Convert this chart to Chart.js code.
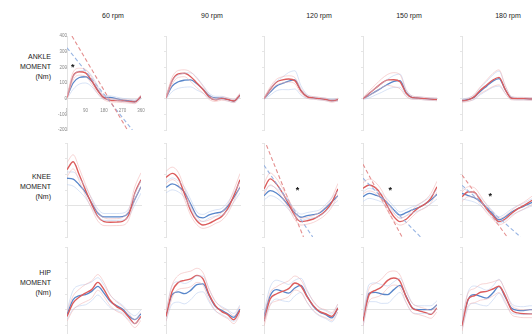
<!DOCTYPE html>
<html>
<head>
<meta charset="utf-8">
<script src="https://cdn.jsdelivr.net/npm/chart.js@4.4.1/dist/chart.umd.min.js"></script>
<style>
  body { margin: 0; background: #fff; width: 532px; height: 334px; overflow: hidden; position: relative;
         font-family: "Liberation Sans", Arial, sans-serif; }
  canvas { position: absolute; }
  .head { position: absolute; font-size: 7px; line-height: 8px; color: #222; white-space: nowrap; transform: translateX(-50%); }
  .row { position: absolute; left: 0; width: 51px; font-size: 7px; line-height: 10px; color: #222; text-align: right; }
</style>
</head>
<body>
<script>
// crank angle samples and axis ticks
const angles = [0, 30, 60, 90, 120, 150, 180, 210, 240, 270, 300, 330, 360];
const yTicks = [-200, -100, 0, 100, 200, 300, 400];
const xTicks = [0, 90, 180, 270, 360];
const speeds = ["60 rpm", "90 rpm", "120 rpm", "150 rpm", "180 rpm"];
const joints = [["ANKLE", "MOMENT", "(Nm)"], ["KNEE", "MOMENT", "(Nm)"], ["HIP", "MOMENT", "(Nm)"]];

// ankle
const ankle60Red = [5, 145, 172, 165, 115, 50, 5, -10, -12, -15, -18, -22, 15];
const ankle60Blue = [10, 100, 135, 140, 112, 55, 8, 8, 0, -8, -12, -18, 10];
const ankle60RedSd = [10, 25, 22, 22, 22, 18, 12, 10, 10, 10, 10, 10, 10];
const ankle60BlueSd = [10, 40, 42, 40, 35, 25, 12, 10, 10, 10, 10, 10, 10];
const ankle90Red = [5, 115, 158, 162, 140, 100, 58, 10, -8, 0, -5, -15, 25];
const ankle90Blue = [5, 80, 108, 118, 120, 95, 60, 20, 5, 5, -5, -15, 20];
const ankle90RedSd = [8, 22, 22, 22, 30, 30, 22, 15, 10, 10, 10, 10, 10];
const ankle90BlueSd = [8, 35, 42, 45, 45, 40, 25, 15, 10, 10, 10, 10, 10];
const ankle120Red = [0, 60, 105, 120, 126, 115, 50, 12, 5, 0, -5, -15, -5];
const ankle120Blue = [0, 42, 80, 98, 112, 120, 52, 14, 5, 0, -5, -10, -8];
const ankle120RedSd = [5, 15, 18, 20, 20, 20, 15, 10, 8, 8, 8, 8, 8];
const ankle120BlueSd = [5, 20, 30, 40, 55, 58, 30, 12, 8, 8, 8, 8, 8];
const ankle150Red = [0, 34, 66, 98, 120, 121, 108, 34, 7, 4, 0, -3, -5];
const ankle150Blue = [0, 20, 45, 68, 92, 110, 115, 38, 7, 4, 0, -3, -5];
const ankle150RedSd = [5, 15, 22, 28, 35, 45, 45, 20, 10, 8, 8, 8, 8];
const ankle150BlueSd = [5, 15, 22, 28, 32, 38, 42, 20, 10, 8, 8, 8, 8];
const ankle180Red = [-15, -8, 13, 55, 87, 119, 136, 60, 3, 0, 0, -2, -2];
const ankle180Blue = [-10, -5, 10, 48, 80, 112, 128, 58, 5, 0, 0, -2, -2];
const ankle180RedSd = [8, 10, 15, 22, 32, 42, 48, 25, 10, 8, 8, 8, 8];
const ankle180BlueSd = [8, 10, 15, 22, 30, 40, 48, 25, 10, 8, 8, 8, 8];

// knee
const knee60Red = [230, 280, 196, 100, 10, -70, -102, -106, -105, -100, -60, 80, 165];
const knee60Blue = [175, 170, 132, 85, 17, -47, -72, -72, -72, -70, -45, 40, 120];
const knee60RedSd = [45, 45, 40, 35, 30, 28, 25, 22, 22, 25, 30, 40, 45];
const knee60BlueSd = [40, 45, 40, 35, 30, 25, 22, 22, 22, 22, 25, 35, 40];
const knee90Red = [180, 206, 174, 75, -32, -96, -123, -113, -92, -70, -21, 64, 165];
const knee90Blue = [117, 139, 123, 85, 11, -64, -78, -59, -47, -40, -4, 53, 117];
const knee90RedSd = [40, 40, 38, 35, 30, 25, 22, 22, 22, 25, 28, 35, 40];
const knee90BlueSd = [35, 38, 35, 32, 28, 25, 22, 20, 20, 22, 25, 30, 35];
const knee120Red = [107, 171, 139, 81, 11, -64, -102, -96, -85, -64, -32, 21, 107];
const knee120Blue = [64, 96, 81, 47, 0, -47, -74, -64, -57, -47, -15, 25, 64];
const knee120RedSd = [35, 38, 35, 32, 28, 25, 22, 22, 22, 22, 25, 30, 35];
const knee120BlueSd = [30, 32, 30, 28, 25, 22, 20, 20, 20, 20, 22, 25, 30];
const knee150Red = [111, 132, 115, 68, -6, -70, -102, -87, -48, -13, 9, 47, 121];
const knee150Blue = [57, 79, 68, 51, 15, -27, -60, -45, -27, -13, 9, 36, 73];
const knee150RedSd = [35, 38, 35, 32, 28, 25, 22, 22, 22, 22, 25, 30, 35];
const knee150BlueSd = [30, 32, 30, 28, 25, 22, 20, 20, 20, 20, 22, 25, 30];
const knee180Red = [57, 89, 85, 36, -21, -64, -102, -85, -51, -21, 0, 25, 50];
const knee180Blue = [78, 64, 51, 25, -13, -55, -91, -72, -42, -21, -4, 15, 30];
const knee180RedSd = [30, 32, 30, 28, 25, 22, 20, 20, 20, 20, 22, 25, 30];
const knee180BlueSd = [35, 30, 28, 25, 22, 20, 20, 20, 20, 20, 20, 22, 25];

// hip
const hip60Red = [-43, 43, 81, 106, 128, 174, 128, 60, 21, -4, -47, -89, -43];
const hip60Blue = [-32, 64, 89, 96, 117, 149, 106, 53, 26, 4, -38, -64, -26];
const hip60RedSd = [30, 45, 50, 55, 55, 50, 45, 35, 30, 25, 25, 25, 25];
const hip60BlueSd = [30, 60, 65, 65, 60, 55, 50, 40, 30, 25, 25, 25, 25];
const hip90Red = [-43, 117, 174, 187, 196, 219, 196, 96, 26, -11, -32, -64, -4];
const hip90Blue = [-43, 96, 113, 102, 123, 160, 164, 89, 21, -4, -26, -49, 4];
const hip90RedSd = [30, 40, 45, 50, 50, 45, 40, 35, 30, 25, 25, 25, 25];
const hip90BlueSd = [30, 60, 65, 65, 60, 55, 50, 40, 30, 25, 25, 25, 25];
const hip120Red = [-74, 68, 100, 117, 134, 170, 149, 81, 26, -11, -26, -43, 11];
const hip120Blue = [-43, 89, 128, 117, 106, 138, 155, 85, 21, -15, -32, -53, 11];
const hip120RedSd = [30, 40, 45, 50, 50, 45, 40, 35, 30, 25, 25, 25, 25];
const hip120BlueSd = [30, 55, 60, 60, 55, 50, 45, 40, 30, 25, 25, 25, 25];
const hip150Red = [-74, 96, 123, 145, 187, 202, 181, 81, 11, -6, -17, -30, 11];
const hip150Blue = [-74, 106, 111, 100, 96, 128, 155, 85, 11, 0, 0, 0, 32];
const hip150RedSd = [30, 40, 45, 50, 50, 45, 40, 35, 30, 25, 25, 25, 25];
const hip150BlueSd = [30, 55, 60, 60, 55, 50, 45, 40, 30, 25, 25, 25, 25];
const hip180Red = [-106, 68, 89, 111, 117, 132, 149, 89, 0, -21, -26, -26, -26];
const hip180Blue = [-96, 64, 96, 85, 74, 106, 149, 81, 11, -4, -6, 0, 0];
const hip180RedSd = [30, 40, 45, 50, 50, 45, 40, 35, 30, 25, 25, 25, 25];
const hip180BlueSd = [30, 50, 55, 55, 50, 45, 45, 40, 30, 25, 25, 25, 25];

// dashed trend lines [angle, moment] and asterisks
const ankle60RedTrend = [[24, 400], [294, -200]];
const ankle60BlueTrend = [[0, 325], [318, -200]];
const knee120RedTrend = [[0, 425], [192, -200]];
const knee120BlueTrend = [[0, 258], [237, -200]];
const knee150RedTrend = [[0, 264], [190, -200]];
const knee150BlueTrend = [[0, 175], [280, -200]];
const knee180RedTrend = [[0, 196], [220, -200]];
const knee180BlueTrend = [[0, 130], [285, -200]];
const ankle60Star = [28, 212];
const knee120Star = [163, 111];
const knee150Star = [133, 111];
const knee180Star = [138, 73];

const panels = [
  [
    { red: ankle60Red, blue: ankle60Blue, redSd: ankle60RedSd, blueSd: ankle60BlueSd, redTrend: ankle60RedTrend, blueTrend: ankle60BlueTrend, star: ankle60Star },
    { red: ankle90Red, blue: ankle90Blue, redSd: ankle90RedSd, blueSd: ankle90BlueSd },
    { red: ankle120Red, blue: ankle120Blue, redSd: ankle120RedSd, blueSd: ankle120BlueSd },
    { red: ankle150Red, blue: ankle150Blue, redSd: ankle150RedSd, blueSd: ankle150BlueSd },
    { red: ankle180Red, blue: ankle180Blue, redSd: ankle180RedSd, blueSd: ankle180BlueSd },
  ],
  [
    { red: knee60Red, blue: knee60Blue, redSd: knee60RedSd, blueSd: knee60BlueSd },
    { red: knee90Red, blue: knee90Blue, redSd: knee90RedSd, blueSd: knee90BlueSd },
    { red: knee120Red, blue: knee120Blue, redSd: knee120RedSd, blueSd: knee120BlueSd, redTrend: knee120RedTrend, blueTrend: knee120BlueTrend, star: knee120Star },
    { red: knee150Red, blue: knee150Blue, redSd: knee150RedSd, blueSd: knee150BlueSd, redTrend: knee150RedTrend, blueTrend: knee150BlueTrend, star: knee150Star },
    { red: knee180Red, blue: knee180Blue, redSd: knee180RedSd, blueSd: knee180BlueSd, redTrend: knee180RedTrend, blueTrend: knee180BlueTrend, star: knee180Star },
  ],
  [
    { red: hip60Red, blue: hip60Blue, redSd: hip60RedSd, blueSd: hip60BlueSd },
    { red: hip90Red, blue: hip90Blue, redSd: hip90RedSd, blueSd: hip90BlueSd },
    { red: hip120Red, blue: hip120Blue, redSd: hip120RedSd, blueSd: hip120BlueSd },
    { red: hip150Red, blue: hip150Blue, redSd: hip150RedSd, blueSd: hip150BlueSd },
    { red: hip180Red, blue: hip180Blue, redSd: hip180RedSd, blueSd: hip180BlueSd },
  ],
];

// layout (pixels)
const colLeft = [67, 166, 264, 363, 462];
const rowTop = [36, 142.5, 247];
const headX = [113, 212, 319, 409, 508];
const rowLabelTop = [52, 172, 268];
const plotW = 74, plotH = 94;
const padL = 22, padT = 8, padR = 14, padB = 8;

const starPlugin = {
  id: "star",
  afterDatasetsDraw(chart, args, opts) {
    if (!opts.at) return;
    const ctx = chart.ctx;
    const px = chart.scales.x.getPixelForValue(opts.at[0]);
    const py = chart.scales.y.getPixelForValue(opts.at[1]);
    ctx.save();
    ctx.font = 'bold 9px "Liberation Sans"';
    ctx.fillStyle = "#111";
    ctx.textAlign = "center";
    ctx.textBaseline = "alphabetic";
    ctx.fillText("*", px, py + 5);
    ctx.restore();
  },
};

function line(values, color, width) {
  return {
    data: values.map(function (v, i) { return { x: angles[i], y: v }; }),
    borderColor: color,
    borderWidth: width,
    pointRadius: 0,
    cubicInterpolationMode: "monotone",
    fill: false,
  };
}

function band(values, sd, sign, color) {
  return line(values.map(function (v, i) { return v + sign * sd[i]; }), color, 0.8);
}

function trend(seg, color) {
  return {
    data: seg.map(function (p) { return { x: p[0], y: p[1] }; }),
    borderColor: color,
    borderWidth: 1.1,
    borderDash: [4, 2.5],
    pointRadius: 0,
    tension: 0,
    fill: false,
  };
}

function makePanel(row, col, p) {
  const cv = document.createElement("canvas");
  cv.width = plotW + padL + padR;
  cv.height = plotH + padT + padB;
  cv.style.width = cv.width + "px";
  cv.style.height = cv.height + "px";
  cv.style.left = colLeft[col] - padL + "px";
  cv.style.top = rowTop[row] - padT + "px";
  document.body.appendChild(cv);
  const first = row === 0 && col === 0;

  const datasets = [
    band(p.red, p.redSd, 1, "rgba(240,180,180,0.7)"),
    band(p.red, p.redSd, -1, "rgba(240,180,180,0.7)"),
    band(p.blue, p.blueSd, 1, "rgba(185,204,238,0.7)"),
    band(p.blue, p.blueSd, -1, "rgba(185,204,238,0.7)"),
  ];
  if (p.redTrend) datasets.push(trend(p.redTrend, "rgba(225,130,130,0.9)"));
  if (p.blueTrend) datasets.push(trend(p.blueTrend, "rgba(140,172,224,0.9)"));
  datasets.push(line(p.red, "rgb(220,92,92)", 1.4));
  datasets.push(line(p.blue, "rgb(88,134,202)", 1.3));

  new Chart(cv, {
    type: "line",
    data: { datasets: datasets },
    plugins: [starPlugin],
    options: {
      responsive: false,
      devicePixelRatio: 1,
      animation: false,
      layout: { padding: { left: padL, top: padT, right: padR, bottom: padB } },
      plugins: { legend: { display: false }, tooltip: { enabled: false }, star: { at: p.star } },
      scales: {
        x: {
          type: "linear",
          min: 0,
          max: 360,
          position: { y: 0 },
          border: { display: true, color: "#e3e3e3", width: 1 },
          grid: { display: false },
          afterBuildTicks: function (s) { s.ticks = xTicks.map(function (v) { return { value: v }; }); },
          ticks: { display: first, font: { size: 4.5, family: "Liberation Sans" }, color: "#888", padding: 1, maxRotation: 0, autoSkip: false },
        },
        y: {
          type: "linear",
          min: -200,
          max: 400,
          position: { x: 0 },
          border: { display: true, color: "#e3e3e3", width: 1 },
          grid: { drawOnChartArea: false, drawTicks: true, tickLength: 2, color: "#e6e6e6" },
          afterBuildTicks: function (s) { s.ticks = yTicks.map(function (v) { return { value: v }; }); },
          ticks: { display: first, font: { size: 4.5, family: "Liberation Sans" }, color: "#888", padding: 1 },
        },
      },
    },
  });
}

speeds.forEach(function (s, i) {
  const d = document.createElement("div");
  d.className = "head";
  d.style.left = headX[i] + "px";
  d.style.top = "12px";
  d.textContent = s;
  document.body.appendChild(d);
});

joints.forEach(function (lines, r) {
  const d = document.createElement("div");
  d.className = "row";
  d.style.top = rowLabelTop[r] + "px";
  d.innerHTML = lines.join("<br>");
  document.body.appendChild(d);
});

panels.forEach(function (rowPanels, r) {
  rowPanels.forEach(function (p, c) { makePanel(r, c, p); });
});
</script>
</body>
</html>
